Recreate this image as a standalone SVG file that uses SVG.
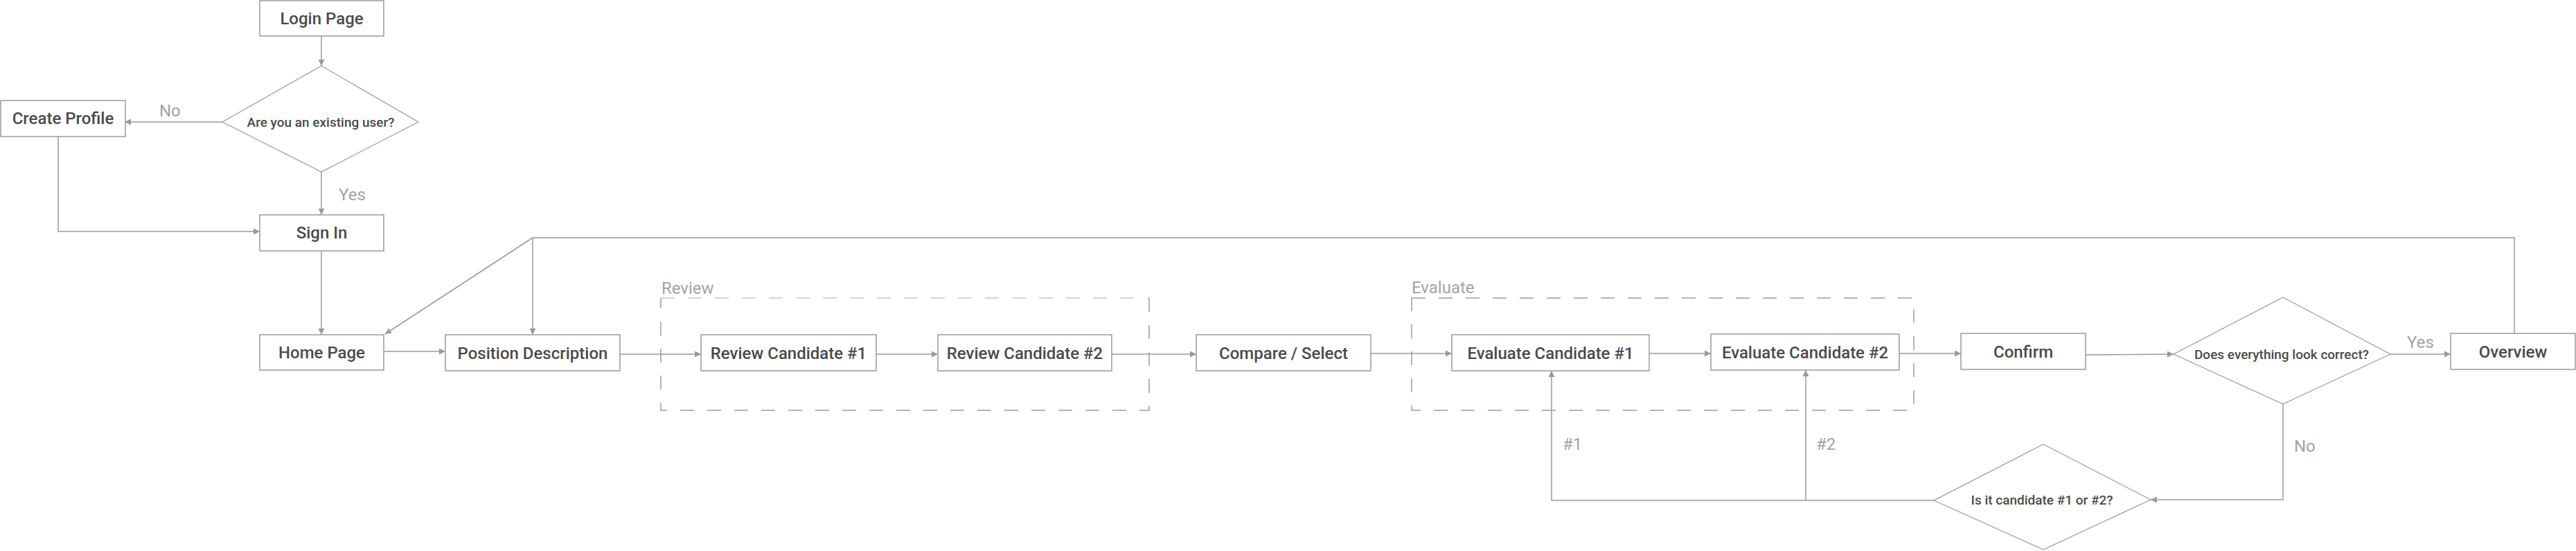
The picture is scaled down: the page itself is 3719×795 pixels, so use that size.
<svg xmlns="http://www.w3.org/2000/svg" width="3719" height="795" viewBox="0 0 3719 795">
<style>
  .box { fill: #ffffff; stroke: #9a9a9a; stroke-width: 1.5; }
  .dia { fill: #ffffff; stroke: #9a9a9a; stroke-width: 1.2; }
  .grp { fill: none; stroke: #9c9c9c; stroke-width: 1.5; stroke-dasharray: 20 19; }
  .grp-light { fill: none; stroke: #c8c8c8; stroke-width: 1.5; stroke-dasharray: 20 19; }
  .t { font-family: Roboto, "Noto Sans", "DejaVu Sans", sans-serif; font-size: 24px; font-weight: 500; fill: #4a4a4a; text-anchor: middle; }
  .td { font-family: Roboto, "Noto Sans", "DejaVu Sans", sans-serif; font-size: 19px; font-weight: 500; fill: #4a4a4a; text-anchor: middle; }
  .lbl { font-family: Roboto, "Noto Sans", "DejaVu Sans", sans-serif; font-size: 24px; fill: #a3a3a3; }
  .c { fill: none; stroke: #9a9a9a; stroke-width: 1.5; }
</style>
<defs>
  <marker id="arr" markerWidth="9" markerHeight="9" refX="9" refY="4.5" orient="auto" markerUnits="userSpaceOnUse">
    <path d="M0,0 L9,4.5 L0,9 z" fill="#9a9a9a"/>
  </marker>
</defs>
<rect x="0" y="0" width="3719" height="795" fill="#ffffff"/>

<g id="group-review">
  <path class="grp-light" d="M954,430 L1659,430"/>
  <path class="grp" d="M1659,430 L1659,592 L954,592 L954,430"/>
  <text class="lbl" x="955" y="424">Review</text>
</g>
<g id="group-evaluate">
  <rect class="grp" x="2038" y="430" width="725" height="162"/>
  <text class="lbl" x="2038" y="423">Evaluate</text>
</g>

<g id="connectors">
  <path class="c" d="M464,52 L464,95" marker-end="url(#arr)"/>
  <path class="c" d="M321,176 L180,176" marker-end="url(#arr)"/>
  <path class="c" d="M464,248 L464,310" marker-end="url(#arr)"/>
  <path class="c" d="M84,197 L84,334 L375,334" marker-end="url(#arr)"/>
  <path class="c" d="M464,362 L464,483" marker-end="url(#arr)"/>
  <path class="c" d="M555,507 L643,507" marker-end="url(#arr)"/>
  <path class="c" d="M895,511 L1012,511" marker-end="url(#arr)"/>
  <path class="c" d="M1265,511 L1354,511" marker-end="url(#arr)"/>
  <path class="c" d="M1605,511 L1727,511" marker-end="url(#arr)"/>
  <path class="c" d="M1979,510 L2096,510" marker-end="url(#arr)"/>
  <path class="c" d="M2381,510 L2470,510" marker-end="url(#arr)"/>
  <path class="c" d="M2742,510 L2831,510" marker-end="url(#arr)"/>
  <path class="c" d="M3011,512 L3138,511" marker-end="url(#arr)"/>
  <path class="c" d="M3451,511 L3538,511" marker-end="url(#arr)"/>
  <path class="c" d="M3630,481 L3630,343 L769,343 L769,483" marker-end="url(#arr)"/>
  <path class="c" d="M769,343 L556,482" marker-end="url(#arr)"/>
  <path class="c" d="M3296,583 L3296,721 L3105,721" marker-end="url(#arr)"/>
  <path class="c" d="M2792,722 L2240,722 L2240,535" marker-end="url(#arr)"/>
  <path class="c" d="M2607,722 L2607,534" marker-end="url(#arr)"/>
  <text class="lbl" x="230" y="168">No</text>
  <text class="lbl" x="489" y="289">Yes</text>
  <text class="lbl" x="3475" y="502">Yes</text>
  <text class="lbl" x="3312" y="652">No</text>
  <text class="lbl" x="2256" y="649">#1</text>
  <text class="lbl" x="2622" y="649">#2</text>
</g>

<g id="login-page">
  <rect class="box" x="375" y="1" width="179" height="51"/>
  <text class="t" x="464.5" y="35">Login Page</text>
</g>
<g id="existing-user">
  <polygon class="dia" points="464,95 604,176 464,248 321,176"/>
  <text class="td" x="463" y="183">Are you an existing user?</text>
</g>
<g id="create-profile">
  <rect class="box" x="1" y="145" width="180" height="52"/>
  <text class="t" x="91" y="179">Create Profile</text>
</g>
<g id="sign-in">
  <rect class="box" x="375" y="310" width="179" height="52"/>
  <text class="t" x="464.5" y="344">Sign In</text>
</g>
<g id="home-page">
  <rect class="box" x="375" y="483" width="179" height="51"/>
  <text class="t" x="464.5" y="517">Home Page</text>
</g>
<g id="position-description">
  <rect class="box" x="643" y="483" width="252" height="52"/>
  <text class="t" x="769" y="518">Position Description</text>
</g>
<g id="review-candidate-1">
  <rect class="box" x="1012" y="483" width="253" height="52"/>
  <text class="t" x="1138.5" y="518">Review Candidate #1</text>
</g>
<g id="review-candidate-2">
  <rect class="box" x="1354" y="483" width="251" height="52"/>
  <text class="t" x="1479.5" y="518">Review Candidate #2</text>
</g>
<g id="compare-select">
  <rect class="box" x="1727" y="483" width="252" height="52"/>
  <text class="t" x="1853" y="518">Compare / Select</text>
</g>
<g id="evaluate-candidate-1">
  <rect class="box" x="2096" y="483" width="285" height="52"/>
  <text class="t" x="2238.5" y="518">Evaluate Candidate #1</text>
</g>
<g id="evaluate-candidate-2">
  <rect class="box" x="2470" y="482" width="272" height="52"/>
  <text class="t" x="2606" y="517">Evaluate Candidate #2</text>
</g>
<g id="confirm">
  <rect class="box" x="2831" y="481" width="180" height="52"/>
  <text class="t" x="2921" y="516">Confirm</text>
</g>
<g id="look-correct">
  <polygon class="dia" points="3296,429 3451,511 3296,583 3138,511"/>
  <text class="td" x="3294" y="518">Does everything look correct?</text>
</g>
<g id="overview">
  <rect class="box" x="3538" y="481" width="180" height="52"/>
  <text class="t" x="3628" y="516">Overview</text>
</g>
<g id="which-candidate">
  <polygon class="dia" points="2950,641 3105,721 2950,793 2792,722"/>
  <text class="td" x="2948" y="728">Is it candidate #1 or #2?</text>
</g>
</svg>
